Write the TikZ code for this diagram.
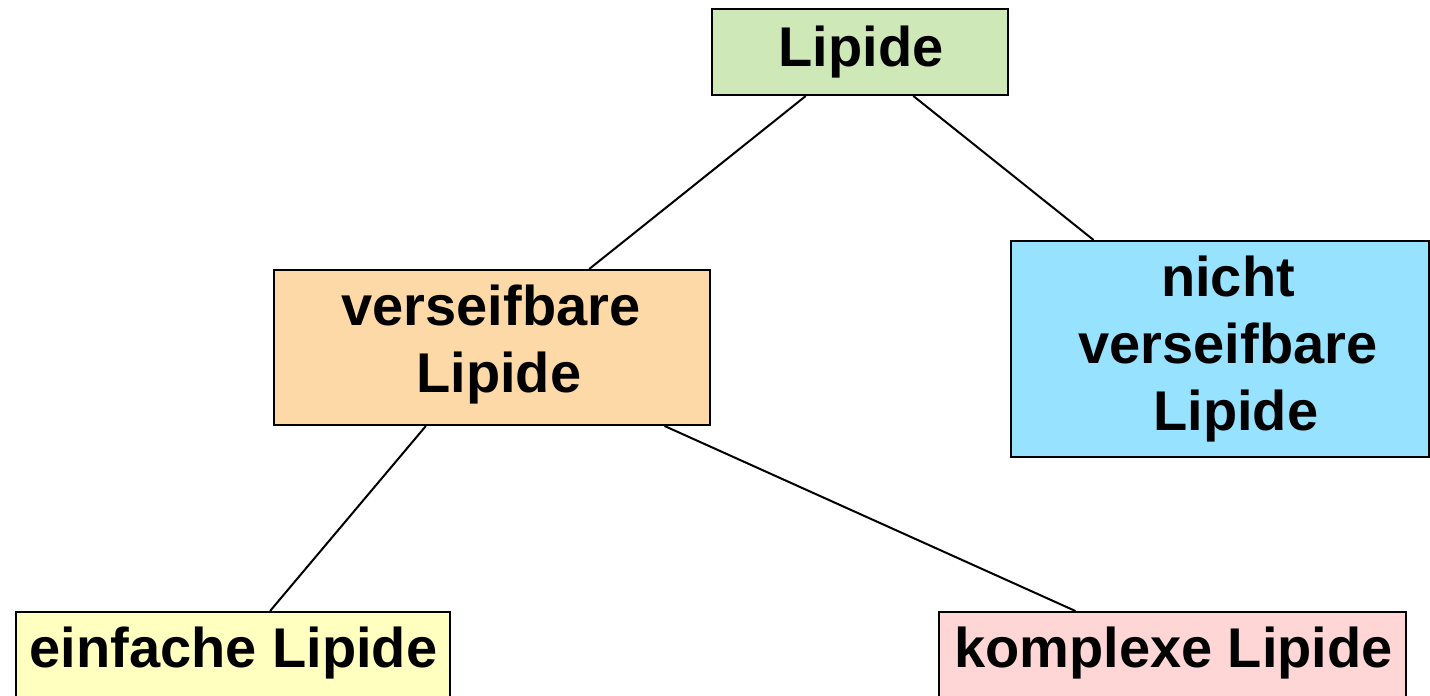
\documentclass[tikz,border=0pt]{standalone}
\usepackage{fontspec}
\setmainfont{Liberation Sans}
\usetikzlibrary{calc}
\definecolor{cgreen}{RGB}{206,232,184}
\definecolor{corange}{RGB}{253,217,168}
\definecolor{cblue}{RGB}{150,226,255}
\definecolor{cyellow}{RGB}{255,255,192}
\definecolor{cpink}{RGB}{255,214,214}
\begin{document}
\begin{tikzpicture}[x=0.5pt,y=-0.5pt,
  box/.style={draw=black,line width=1pt,rectangle,inner sep=0pt},
  lbl/.style={font=\fontsize{28pt}{33.5pt}\selectfont\bfseries,align=center,inner sep=0pt},
  conn/.style={line width=1pt}]
\useasboundingbox (0,0) rectangle (1430,696);
% boxes
\node[box,fill=cgreen,minimum width=148pt,minimum height=43pt] (lip) at (860,52) {};
\node[box,fill=corange,minimum width=218pt,minimum height=77.5pt] (vs) at (492,347.5) {};
\node[box,fill=cblue,minimum width=209pt,minimum height=108pt] (nv) at (1220,349) {};
\node[box,fill=cyellow,minimum width=217pt,minimum height=54pt] (ei) at (233,666) {};
\node[box,fill=cpink,minimum width=233.5pt,minimum height=54pt] (ko) at (1172.5,666) {};
% labels
\node[lbl] (lipt) at (861,52) {Lipide};
\node[lbl] (vst) at (491,345) {verseifbare\\\hspace*{0.28em}Lipide};
\node[lbl] (nvt) at (1228,349) {nicht\\verseifbare\\\hspace*{0.28em}Lipide};
\node[lbl,anchor=base] (eit) at (233.5,667) {einfache Lipide};
\node[lbl,anchor=base] (kot) at (1173.5,667) {komplexe Lipide};
% connectors
\draw[conn] ($(lip.south west)!0.318!(lip.south east)$) -- ($(vs.north west)!0.722!(vs.north east)$);
\draw[conn] ($(lip.south west)!0.679!(lip.south east)$) -- ($(nv.north west)!0.199!(nv.north east)$);
\draw[conn] ($(vs.south west)!0.349!(vs.south east)$) -- ($(ei.north west)!0.585!(ei.north east)$);
\draw[conn] ($(vs.south west)!0.894!(vs.south east)$) -- ($(ko.north west)!0.293!(ko.north east)$);
\end{tikzpicture}
\end{document}
